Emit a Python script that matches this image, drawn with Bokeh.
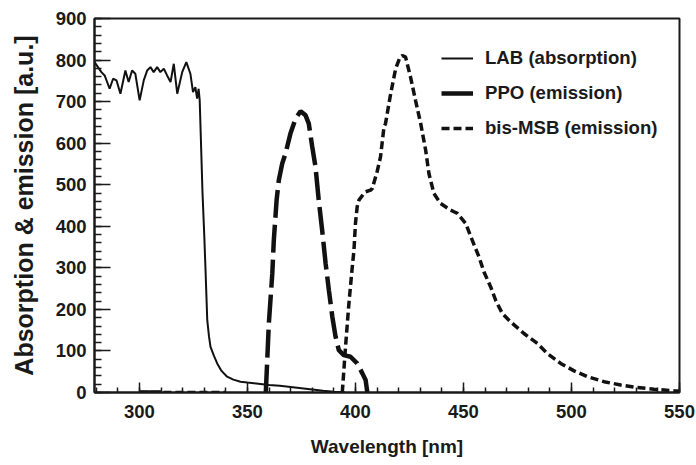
import math
from bokeh.plotting import figure
from bokeh.models import FixedTicker, Legend, LegendItem, Range1d
from bokeh.embed import file_html
from bokeh.resources import INLINE

nan = float("nan")

# ---- data ----
lab_wl = [279.2, 280.8, 282.4, 283.9, 286.2, 287.8, 289.4, 291.2, 293.5, 295.0,
          296.6, 298.1, 300.1, 302.0, 303.6, 305.1, 306.6, 308.2, 309.7, 311.3,
          312.8, 314.4, 315.9, 317.5, 319.8, 321.7, 323.6, 324.8, 325.9, 326.7,
          327.4, 327.9, 328.5, 329.2, 330.0, 330.6, 331.4, 332.2, 332.9, 334.5,
          336.0, 338.0, 340.6, 343.5, 346.8, 350, 355, 360, 365, 370,
          375, 380, 385, 390, 395]
lab_abs = [795, 783, 771, 763, 731, 755, 751, 719, 775, 747,
           775, 767, 703, 751, 775, 783, 771, 783, 771, 779,
           763, 747, 791, 719, 771, 795, 767, 723, 735, 707,
           731, 703, 600, 480, 380, 294, 174, 135, 110, 88,
           70, 52, 38, 31, 26, 24, 21, 18, 16, 13,
           10, 7, 4, 2, 1]

ppo_wl = [300, 310, nan, 358.5, 359.9, 361.5, 362.2, 363.5, 364.5, 366.1, 367.6,
          369.9, 372.3, 374.6, 376.9, 378.4, 380.0, 381.5, 383.0, 384.6, 386.2,
          387.7, 389.3, 390.8, 392.3, 394.6, 397.7, 400.8, 403.2, 404.7, 405.5]
ppo_em = [0, 0, nan, 0, 166, 286, 366, 463, 510, 551, 575,
          623, 659, 677, 667, 647, 591, 543, 463, 390, 310,
          246, 182, 134, 102, 90, 86, 70, 46, 30, 0]

bis_wl = [300, 340, nan, 393.9, 395.4, 396.9, 398.3, 399.3, 400.0, 400.8, 401.6,
          403.9, 404.7, 407.0, 407.8, 410.1, 411.6, 413.2, 413.9, 416.3, 418.6,
          420.5, 421.7, 423.2, 425.5, 427.8, 430.2, 432.5, 434.0, 436.3, 439.4,
          444.0, 445.6, 447.2, 451.0, 454.1, 457.2, 459.5, 462.6, 464.9, 468.0,
          471.8, 478.0, 484.2, 488.8, 495.0, 501.2, 507.4, 515.1, 522.8, 530.5,
          538.2, 547.5, 550]
bis_em = [0, 0, nan, 0, 110, 210, 290, 342, 407, 447, 463,
          479, 483, 487, 491, 533, 567, 639, 647, 719, 779,
          805, 811, 807, 759, 703, 647, 583, 527, 479, 455,
          439, 435, 431, 407, 366, 326, 290, 254, 222, 190,
          170, 142, 118, 94, 70, 52, 38, 26, 18, 12,
          8, 4, 3]

x_major = [300, 350, 400, 450, 500, 550]
x_minor = list(range(280, 551, 10))
y_major = [0, 100, 200, 300, 400, 500, 600, 700, 800, 900]
y_minor = list(range(0, 901, 20))

labels = ["LAB (absorption)", "PPO (emission)", "bis-MSB (emission)"]

FONT = "Liberation Sans"
INK = "#1a1a1a"

p = figure(width=696, height=465, output_backend="svg", toolbar_location=None,
           x_range=Range1d(279.2, 550), y_range=Range1d(0, 900),
           min_border_left=94, min_border_right=17, min_border_top=18,
           min_border_bottom=73)
p.grid.visible = False
p.background_fill_color = "white"
p.border_fill_color = "white"
p.outline_line_color = INK
p.outline_line_width = 2

r_lab = p.line(lab_wl, lab_abs, line_color="#111111", line_width=2)
r_ppo = p.line(ppo_wl, ppo_em, line_color="#111111", line_width=4.5,
               line_dash="28 7")
r_bis = p.line(bis_wl, bis_em, line_color="#111111", line_width=3.5,
               line_dash="8 4")
# legend key for PPO is drawn solid (single point: draws nothing on the plot)
r_ppo_key = p.line(ppo_wl[:1], ppo_em[:1], line_color="#111111", line_width=4.5)

for ax in (p.xaxis[0], p.yaxis[0]):
    ax.axis_line_width = 2
    ax.axis_line_color = INK
    ax.major_tick_line_width = 1.5
    ax.minor_tick_line_width = 1.5
    ax.major_tick_line_color = INK
    ax.minor_tick_line_color = INK
    ax.major_tick_out = 0
    ax.minor_tick_out = 0
    ax.major_label_text_font = FONT
    ax.major_label_text_font_style = "bold"
    ax.major_label_text_font_size = "18.5px"
    ax.major_label_text_color = INK
    ax.axis_label_text_font = FONT
    ax.axis_label_text_font_style = "bold"
    ax.axis_label_text_color = INK

p.xaxis.ticker = FixedTicker(ticks=x_major, minor_ticks=x_minor)
p.yaxis.ticker = FixedTicker(ticks=y_major, minor_ticks=y_minor)
p.xaxis.major_tick_in = 10
p.xaxis.minor_tick_in = 5
p.yaxis.major_tick_in = 16
p.yaxis.minor_tick_in = 7
p.xaxis.major_label_standoff = 12
p.yaxis.major_label_standoff = 8
p.xaxis.axis_label = "Wavelength [nm]"
p.yaxis.axis_label = "Absorption & emission [a.u.]"
p.xaxis.axis_label_text_font_size = "19px"
p.yaxis.axis_label_text_font_size = "25px"
p.xaxis.axis_label_standoff = 15
p.yaxis.axis_label_standoff = 15

legend = Legend(items=[LegendItem(label=labels[0], renderers=[r_lab]),
                       LegendItem(label=labels[1], renderers=[r_ppo_key]),
                       LegendItem(label=labels[2], renderers=[r_bis])],
                location=(347, 253))
legend.border_line_alpha = 0
legend.background_fill_alpha = 0
legend.padding = 0
legend.margin = 0
legend.glyph_width = 32
legend.glyph_height = 20
legend.label_standoff = 12
legend.spacing = 13
legend.label_text_font = FONT
legend.label_text_font_style = "bold"
legend.label_text_font_size = "18.6px"
legend.label_text_color = INK
p.add_layout(legend)

open("out.html", "w").write(file_html(p, INLINE))
